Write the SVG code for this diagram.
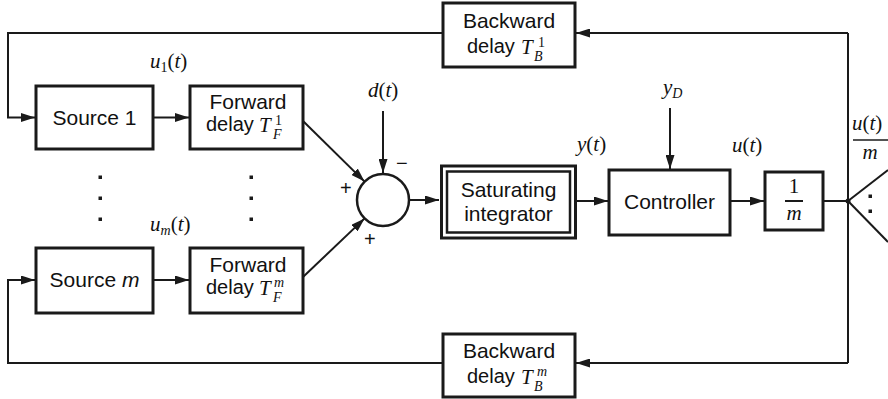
<svg xmlns="http://www.w3.org/2000/svg" width="888" height="399" viewBox="0 0 888 399">
<style>
.box{fill:#fff;stroke:#1a1a1a;stroke-width:3}
.ln{fill:none;stroke:#1a1a1a;stroke-width:2}
.sans{font-family:"Liberation Sans",Arial,sans-serif;font-size:21px;fill:#111}
.dl{font-size:20px}
.m{font-family:"Liberation Serif","Times New Roman",serif;font-style:italic;font-size:21px;fill:#111}
.up{font-style:normal}
.sm{font-size:14px}
.sgn{font-family:"Liberation Sans",Arial,sans-serif;font-size:20px;fill:#111}
</style>
<defs>
<marker id="ah" markerUnits="userSpaceOnUse" markerWidth="14" markerHeight="9" refX="14" refY="4.5" orient="auto">
<path d="M0,0 L14,4.5 L0,9 z" fill="#1a1a1a"/>
</marker>
</defs>

<g id="connectors">
<path class="ln" d="M848,33 V363"/>
<path class="ln" d="M848,33 H576" marker-end="url(#ah)"/>
<path class="ln" d="M848,363 H576" marker-end="url(#ah)"/>
<path class="ln" d="M443,33 H8 V117.5 H35" marker-end="url(#ah)"/>
<path class="ln" d="M443,363 H8 V280 H35" marker-end="url(#ah)"/>
<path class="ln" d="M153,117.5 H189" marker-end="url(#ah)"/>
<path class="ln" d="M153,280 H189" marker-end="url(#ah)"/>
<path class="ln" d="M303,121 L364.6,181.6" marker-end="url(#ah)"/>
<path class="ln" d="M303,277 L364.6,218.4" marker-end="url(#ah)"/>
<path class="ln" d="M383,111 V173" marker-end="url(#ah)"/>
<path class="ln" d="M409,200 H439" marker-end="url(#ah)"/>
<path class="ln" d="M577,201 H608" marker-end="url(#ah)"/>
<path class="ln" d="M670,108 V169" marker-end="url(#ah)"/>
<path class="ln" d="M730,201 H764" marker-end="url(#ah)"/>
<path class="ln" d="M823,201 H848"/>
<path class="ln" d="M848,201 L888,170"/>
<path class="ln" d="M848,201 L888,242"/>
<circle cx="848" cy="201" r="2.5" fill="#1a1a1a"/>
</g>

<g id="source1">
<rect class="box" x="36" y="86" width="117" height="63"/>
<text class="sans" x="94.5" y="125" text-anchor="middle">Source 1</text>
</g>

<g id="sourcem">
<rect class="box" x="36" y="248" width="117" height="65"/>
<text class="sans" x="94.5" y="287" text-anchor="middle">Source <tspan font-style="italic">m</tspan></text>
</g>

<g id="fwd1">
<rect class="box" x="190" y="86" width="113" height="63"/>
<text class="sans" x="248" y="109" text-anchor="middle">Forward</text>
<text class="sans dl" x="206" y="131">delay</text>
<text class="m"><tspan x="259" y="132">T</tspan><tspan class="up sm" x="275" y="125">1</tspan><tspan class="sm" x="273" y="139">F</tspan></text>
</g>

<g id="fwdm">
<rect class="box" x="190" y="248" width="113" height="65"/>
<text class="sans" x="248" y="272" text-anchor="middle">Forward</text>
<text class="sans dl" x="206" y="294">delay</text>
<text class="m"><tspan x="259" y="295">T</tspan><tspan class="sm" x="274" y="287">m</tspan><tspan class="sm" x="273" y="302">F</tspan></text>
</g>

<g id="bwd1">
<rect class="box" x="443" y="3" width="132" height="64"/>
<text class="sans" x="509" y="28" text-anchor="middle">Backward</text>
<text class="sans dl" x="467" y="53">delay</text>
<text class="m"><tspan x="521" y="54">T</tspan><tspan class="up sm" x="538" y="47">1</tspan><tspan class="sm" x="534" y="61">B</tspan></text>
</g>

<g id="bwdm">
<rect class="box" x="443" y="334" width="132" height="63"/>
<text class="sans" x="509" y="358" text-anchor="middle">Backward</text>
<text class="sans dl" x="467" y="383">delay</text>
<text class="m"><tspan x="521" y="384">T</tspan><tspan class="sm" x="537" y="376">m</tspan><tspan class="sm" x="534" y="391">B</tspan></text>
</g>

<g id="sum">
<circle cx="383" cy="200" r="26" fill="#fff" stroke="#1a1a1a" stroke-width="2.5"/>
<text class="sgn" x="396" y="170">−</text>
<text class="sgn" x="340" y="195">+</text>
<text class="sgn" x="364" y="246">+</text>
</g>

<g id="integrator">
<rect class="box" x="441.5" y="166" width="134" height="72"/>
<rect fill="none" stroke="#1a1a1a" stroke-width="2.5" x="447" y="171.5" width="123" height="61"/>
<text class="sans" x="508.5" y="197" text-anchor="middle">Saturating</text>
<text class="sans" x="508.5" y="221" text-anchor="middle">integrator</text>
</g>

<g id="controller">
<rect class="box" x="609" y="170" width="121" height="65"/>
<text class="sans" x="669.5" y="209" text-anchor="middle">Controller</text>
</g>

<g id="gain">
<rect class="box" x="765" y="172" width="58" height="58"/>
<text class="m" x="794" y="193" text-anchor="middle"><tspan class="up">1</tspan></text>
<line x1="785" y1="201" x2="803" y2="201" stroke="#1a1a1a" stroke-width="2"/>
<text class="m" x="794" y="220" text-anchor="middle">m</text>
</g>

<g id="labels">
<text class="m" x="150" y="68">u<tspan class="up sm" dy="4">1</tspan><tspan class="up" dy="-4">(</tspan>t<tspan class="up">)</tspan></text>
<text class="m" x="150" y="231">u<tspan class="sm" dy="4">m</tspan><tspan class="up" dy="-4">(</tspan>t<tspan class="up">)</tspan></text>
<text class="m" x="368" y="97">d<tspan class="up">(</tspan>t<tspan class="up">)</tspan></text>
<text class="m" x="663" y="94">y<tspan class="sm" dy="4">D</tspan></text>
<text class="m" x="577" y="151">y<tspan class="up">(</tspan>t<tspan class="up">)</tspan></text>
<text class="m" x="732" y="152">u<tspan class="up">(</tspan>t<tspan class="up">)</tspan></text>
<text class="m" x="852" y="130">u<tspan class="up">(</tspan>t<tspan class="up">)</tspan></text>
<line x1="853" y1="140" x2="888" y2="140" stroke="#1a1a1a" stroke-width="1.5"/>
<text class="m" x="870" y="159" text-anchor="middle">m</text>
</g>

<g id="dots" fill="#1a1a1a">
<rect x="98.5" y="175.5" width="3.5" height="3.5"/>
<rect x="98.5" y="196.5" width="3.5" height="3.5"/>
<rect x="98.5" y="217.5" width="3.5" height="3.5"/>
<rect x="249.5" y="175.5" width="3.5" height="3.5"/>
<rect x="249.5" y="196.5" width="3.5" height="3.5"/>
<rect x="249.5" y="217.5" width="3.5" height="3.5"/>
<rect x="868.5" y="194.5" width="3.5" height="3.5"/>
<rect x="868.5" y="209.5" width="3.5" height="3.5"/>
</g>
</svg>
